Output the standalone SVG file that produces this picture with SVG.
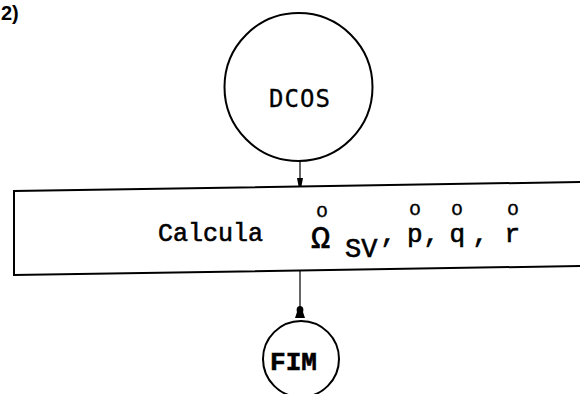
<svg xmlns="http://www.w3.org/2000/svg" width="580" height="394" viewBox="0 0 580 394">
<style>
.ln{fill:none;stroke:#000;stroke-width:2;stroke-linecap:round}
.thin{fill:none;stroke:#000;stroke-width:1.2}
.mono{font-family:"Liberation Mono","DejaVu Sans Mono",monospace;fill:#000;stroke:#000;stroke-width:0.6}
.sans{font-family:"DejaVu Sans Mono","Liberation Mono",monospace;fill:#000;stroke:#000;stroke-width:0.3}
.ring{font-size:20px;stroke-width:0.3}
</style>
<rect width="580" height="394" fill="#fff"/>
<text x="1" y="20" font-family="Liberation Sans, Arial, sans-serif" font-weight="bold" font-size="20">2)</text>
<g id="connectors">
<line class="thin" x1="300" y1="161" x2="300" y2="186"/>
<path d="M297,178 L303,178 L301.5,186 L298.5,186 Z" fill="#000"/>
<line class="thin" x1="300" y1="271" x2="300" y2="318"/>
<path d="M300,306 C303,306 304,309 303,312 L305,318 L295,318 L297,312 C296,309 297,306 300,306 Z" fill="#000"/>
</g>
<g id="dcos">
<circle class="ln" cx="298.5" cy="87" r="74"/>
<text class="sans" x="300" y="107" font-size="24" letter-spacing="1" text-anchor="middle">DCOS</text>
</g>
<g id="calcula">
<path class="ln" d="M580,182 L14,191 L14,275 L580,266"/>
<text class="mono" font-size="25" y="241"><tspan x="158">Calcula</tspan><tspan x="311" y="248" font-size="32">Ω</tspan><tspan x="345" y="257" font-size="27">SV</tspan><tspan x="380.5" y="242" font-size="26">,</tspan><tspan x="407" y="242" font-size="26">p</tspan><tspan x="423.5" font-size="26">,</tspan><tspan x="449.5" font-size="26">q</tspan><tspan x="472.5" font-size="26">,</tspan><tspan x="504.5" font-size="26">r</tspan></text>
<text class="mono ring" y="217"><tspan x="316">o</tspan><tspan x="409" y="215">o</tspan><tspan x="451">o</tspan><tspan x="507">o</tspan></text>
</g>
<g id="fim">
<circle class="ln" cx="301" cy="359" r="38"/>
<text class="mono" x="293.5" y="370" font-size="26" font-weight="bold" text-anchor="middle" stroke-width="0">FIM</text>
</g>
</svg>
